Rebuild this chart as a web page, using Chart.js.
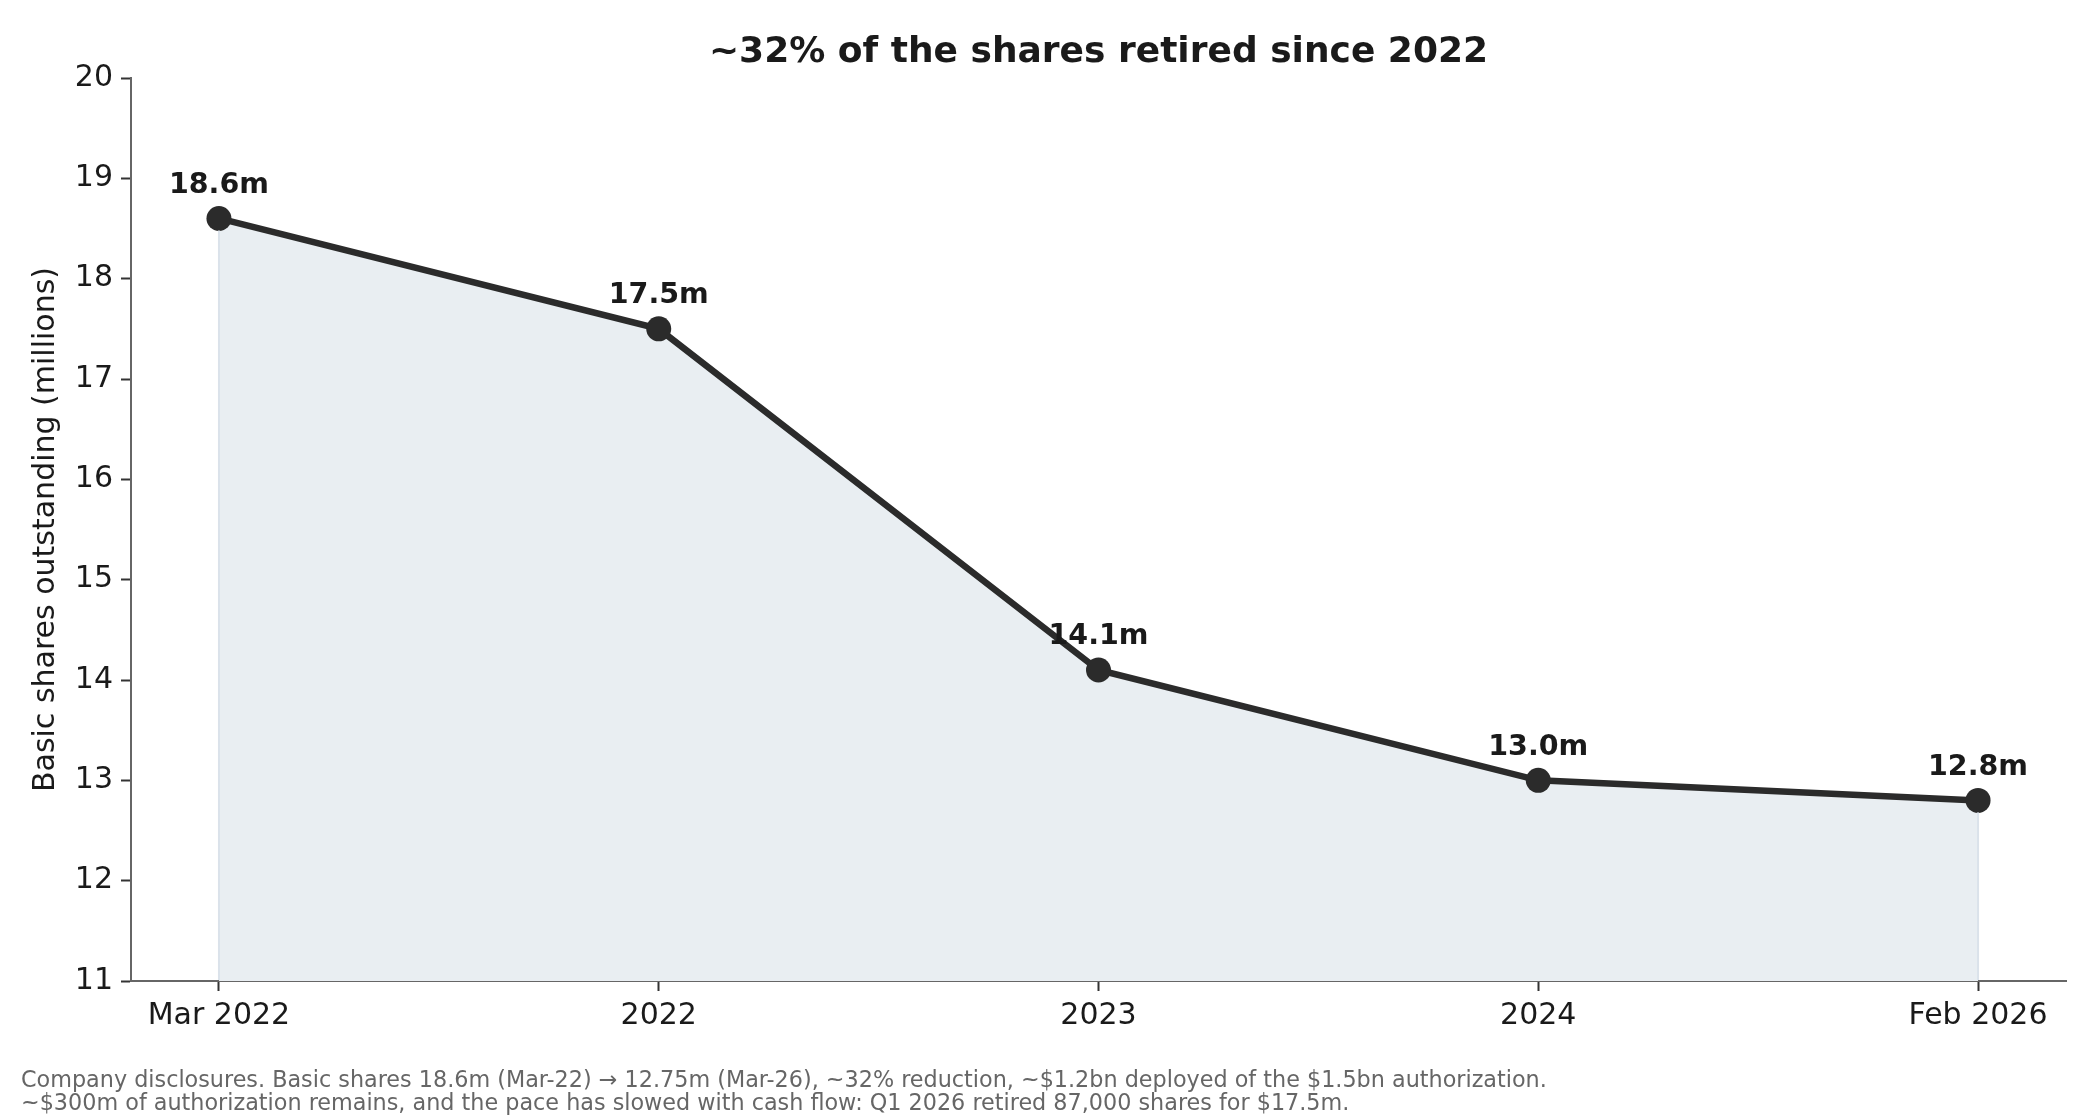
<!DOCTYPE html>
<html>
<head>
<meta charset="utf-8">
<script src="https://cdn.jsdelivr.net/npm/chart.js@4.4.1/dist/chart.umd.min.js"></script>
<style>
  html, body { margin: 0; padding: 0; background: #fff; }
  canvas { display: block; }
</style>
</head>
<body>
<canvas id="sharesChart" width="2100" height="1120"></canvas>
<script>
// data
const categories = ['Mar 2022', '2022', '2023', '2024', 'Feb 2026'];
const sharesMillions = [18.6, 17.5, 14.1, 13.0, 12.8];
const yTicks = [11, 12, 13, 14, 15, 16, 17, 18, 19, 20];

const chartTitle = '~32% of the shares retired since 2022';
const yTitle = 'Basic shares outstanding (millions)';
const footnote = [
    'Company disclosures. Basic shares 18.6m (Mar-22) \u2192 12.75m (Mar-26), ~32% reduction, ~$1.2bn deployed of the $1.5bn authorization.',
    '~$300m of authorization remains, and the pace has slowed with cash flow: Q1 2026 retired 87,000 shares for $17.5m.'
];

const FONT = '"DejaVu Sans", Verdana, sans-serif';

// title, footnote, value labels and fill edges
const extrasPlugin = {
    id: 'extras',
    afterDatasetsDraw(chart) {
        const ctx = chart.ctx;
        const area = chart.chartArea;
        const meta = chart.getDatasetMeta(0);
        ctx.save();

        // thin edges on the filled area
        ctx.strokeStyle = '#dbe2ea';
        ctx.lineWidth = 2;
        [meta.data[0], meta.data[meta.data.length - 1]].forEach(pt => {
            ctx.beginPath();
            ctx.moveTo(pt.x, pt.y + 12);
            ctx.lineTo(pt.x, area.bottom - 1);
            ctx.stroke();
        });

        // value labels
        ctx.fillStyle = '#1a1a1a';
        ctx.font = 'bold 28.5px ' + FONT;
        ctx.textAlign = 'center';
        ctx.textBaseline = 'middle';
        meta.data.forEach((pt, i) => {
            ctx.fillText(sharesMillions[i].toFixed(1) + 'm', pt.x, pt.y - 33);
        });
        ctx.restore();
    },
    afterDraw(chart) {
        const ctx = chart.ctx;
        const area = chart.chartArea;
        ctx.save();
        ctx.fillStyle = '#1a1a1a';
        ctx.font = 'bold 36px ' + FONT;
        ctx.textAlign = 'center';
        ctx.textBaseline = 'middle';
        ctx.fillText(chartTitle, (area.left + area.right) / 2, 53);

        ctx.fillStyle = '#666666';
        ctx.font = '22.3px ' + FONT;
        ctx.textAlign = 'left';
        footnote.forEach((line, i) => {
            ctx.fillText(line, 21, 1081 + i * 23);
        });
        ctx.restore();
    }
};

const ctx = document.getElementById('sharesChart').getContext('2d');

const myChart = new Chart(ctx, {
    type: 'line',
    data: {
        datasets: [{
            data: sharesMillions.map((v, i) => ({ x: i, y: v })),
            borderColor: '#2b2b2b',
            borderWidth: 6.5,
            backgroundColor: '#e9eef2',
            fill: 'start',
            tension: 0,
            pointRadius: 12.5,
            pointBackgroundColor: '#2b2b2b',
            pointBorderWidth: 0,
            pointHoverRadius: 12.5
        }]
    },
    options: {
        responsive: false,
        animation: false,
        devicePixelRatio: 1,
        layout: {
            padding: { top: 78, right: 34, bottom: 0, left: 0 }
        },
        plugins: {
            legend: { display: false },
            tooltip: { enabled: false }
        },
        scales: {
            x: {
                type: 'linear',
                min: -0.2,
                max: 4.2,
                afterBuildTicks: scale => {
                    scale.ticks = categories.map((c, i) => ({ value: i }));
                },
                afterFit: scale => { scale.height = 139; },
                ticks: {
                    autoSkip: false,
                    maxRotation: 0,
                    padding: 7,
                    color: '#1a1a1a',
                    font: { family: FONT, size: 30 },
                    callback: value => categories[value]
                },
                grid: {
                    drawOnChartArea: false,
                    tickLength: 10,
                    tickWidth: 2,
                    tickColor: '#333333'
                },
                border: { color: '#666666', width: 2 }
            },
            y: {
                min: 11,
                max: 20,
                afterBuildTicks: scale => {
                    scale.ticks = yTicks.map(v => ({ value: v }));
                },
                afterFit: scale => { scale.width = 131; },
                ticks: {
                    padding: 8,
                    color: '#1a1a1a',
                    font: { family: FONT, size: 30 }
                },
                grid: {
                    drawOnChartArea: false,
                    tickLength: 10,
                    tickWidth: 2,
                    tickColor: '#333333'
                },
                border: { color: '#666666', width: 2 },
                title: {
                    display: true,
                    text: yTitle,
                    color: '#1a1a1a',
                    font: { family: FONT, size: 30 },
                    padding: { top: 28, bottom: 0 }
                }
            }
        }
    },
    plugins: [extrasPlugin]
});
</script>
</body>
</html>
